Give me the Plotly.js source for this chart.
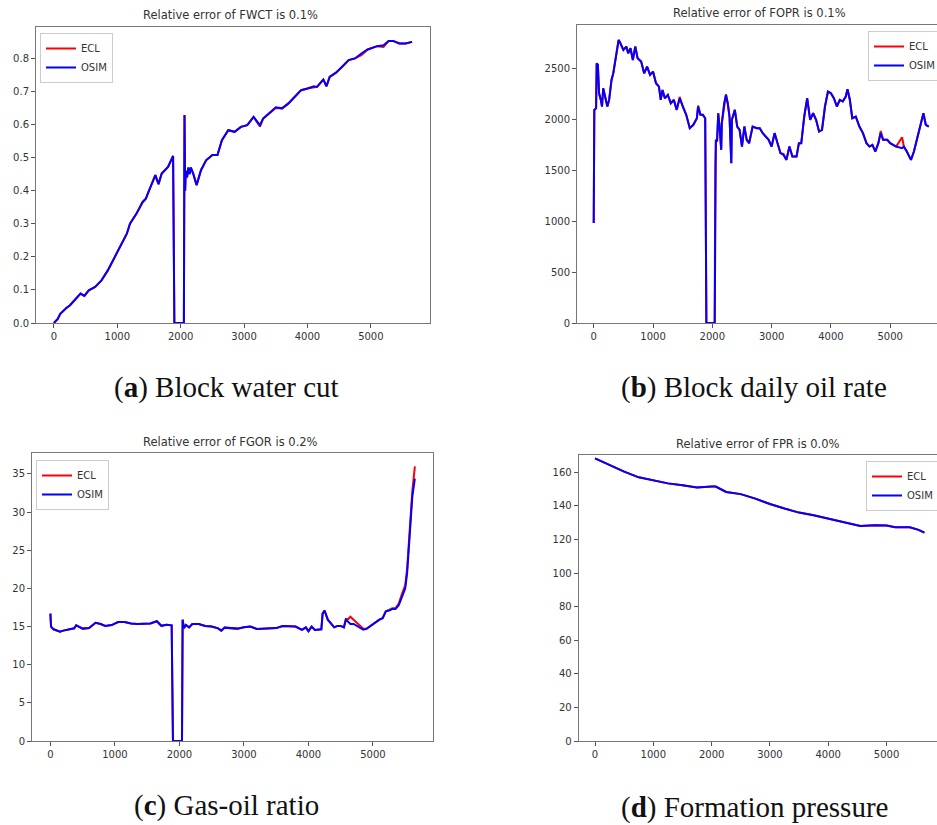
<!DOCTYPE html>
<html>
<head>
<meta charset="utf-8">
<script src="https://cdn.plot.ly/plotly-3.0.1.min.js"></script>
<style>
html,body{margin:0;padding:0;background:#fff;}
#chart{width:937px;height:825px;}
</style>
</head>
<body>
<div id="chart"></div>
<script>
// ---------- (a) FWCT ----------
const daysA = [0, 60, 100, 150, 200, 250, 300, 350, 420, 480, 550, 650, 750, 850, 950, 1050, 1150, 1200, 1300, 1400, 1450, 1500, 1600, 1650, 1700, 1800, 1880, 1900, 2050, 2060, 2070, 2080, 2100, 2120, 2140, 2160, 2200, 2250, 2320, 2400, 2500, 2580, 2650, 2750, 2850, 2950, 3050, 3150, 3250, 3300, 3400, 3500, 3600, 3700, 3800, 3900, 4000, 4100, 4150, 4250, 4300, 4350, 4450, 4550, 4650, 4750, 4850, 4950, 5100, 5200, 5280, 5350, 5450, 5550, 5650];
const fwctOSIM = [0.0, 0.012, 0.028, 0.038, 0.046, 0.053, 0.064, 0.074, 0.089, 0.082, 0.099, 0.109, 0.129, 0.159, 0.195, 0.23, 0.27, 0.30, 0.33, 0.366, 0.376, 0.40, 0.447, 0.42, 0.452, 0.472, 0.505, 0.0, 0.0, 0.629, 0.40, 0.46, 0.44, 0.47, 0.45, 0.47, 0.45, 0.417, 0.462, 0.492, 0.508, 0.508, 0.553, 0.583, 0.578, 0.593, 0.598, 0.623, 0.598, 0.618, 0.634, 0.652, 0.649, 0.664, 0.684, 0.704, 0.709, 0.716, 0.714, 0.736, 0.716, 0.744, 0.757, 0.775, 0.795, 0.80, 0.815, 0.827, 0.837, 0.84, 0.853, 0.853, 0.845, 0.845, 0.85];
const fwctECL  = [0.0, 0.012, 0.028, 0.038, 0.046, 0.053, 0.064, 0.074, 0.089, 0.082, 0.099, 0.109, 0.129, 0.159, 0.195, 0.23, 0.27, 0.30, 0.33, 0.366, 0.376, 0.40, 0.447, 0.42, 0.452, 0.472, 0.505, 0.0, 0.0, 0.629, 0.40, 0.46, 0.44, 0.47, 0.45, 0.47, 0.45, 0.417, 0.462, 0.492, 0.508, 0.508, 0.553, 0.583, 0.578, 0.593, 0.598, 0.623, 0.594, 0.618, 0.634, 0.650, 0.649, 0.664, 0.684, 0.704, 0.709, 0.712, 0.714, 0.736, 0.716, 0.744, 0.757, 0.775, 0.795, 0.80, 0.810, 0.827, 0.837, 0.835, 0.853, 0.853, 0.845, 0.845, 0.85];

// ---------- (b) FOPR ----------
const daysB = [0, 10, 40, 50, 70, 90, 120, 140, 160, 200, 230, 260, 300, 330, 370, 400, 420, 450, 500, 550, 580, 620, 660, 700, 740, 800, 850, 900, 950, 1000, 1050, 1100, 1130, 1160, 1200, 1250, 1300, 1350, 1400, 1450, 1500, 1560, 1620, 1680, 1740, 1760, 1800, 1840, 1880, 1900, 2040, 2050, 2060, 2080, 2100, 2130, 2150, 2160, 2200, 2230, 2260, 2290, 2320, 2330, 2380, 2420, 2460, 2500, 2540, 2580, 2620, 2680, 2750, 2800, 2850, 2900, 2950, 3000, 3050, 3100, 3150, 3200, 3250, 3300, 3350, 3420, 3460, 3500, 3550, 3600, 3650, 3700, 3750, 3800, 3850, 3900, 3950, 4000, 4050, 4100, 4150, 4200, 4250, 4280, 4320, 4360, 4420, 4480, 4540, 4600, 4650, 4700, 4750, 4800, 4840, 4880, 4950, 5000, 5100, 5200, 5230, 5280, 5350, 5400, 5450, 5500, 5560, 5600, 5650];
const foprOSIM = [983, 2097, 2113, 2555, 2540, 2260, 2195, 2130, 2310, 2195, 2130, 2195, 2392, 2457, 2621, 2752, 2785, 2752, 2687, 2720, 2654, 2703, 2588, 2720, 2605, 2572, 2457, 2523, 2441, 2474, 2359, 2326, 2195, 2293, 2211, 2244, 2162, 2195, 2097, 2211, 2130, 2048, 1917, 1950, 2015, 2130, 2048, 2048, 2015, 0, 0, 1540, 1802, 1786, 2064, 1868, 1704, 1966, 2162, 2244, 2162, 2031, 1573, 1999, 2097, 1933, 1900, 1736, 1933, 1802, 1769, 1933, 1917, 1917, 1868, 1835, 1802, 1736, 1868, 1769, 1671, 1654, 1605, 1736, 1638, 1638, 1769, 1769, 2031, 2211, 1999, 2064, 1999, 1884, 1900, 2130, 2277, 2261, 2211, 2130, 2195, 2179, 2228, 2300, 2195, 2015, 2031, 1933, 1868, 1769, 1736, 1753, 1687, 1769, 1868, 1802, 1802, 1769, 1736, 1720, 1736, 1687, 1605, 1687, 1802, 1933, 2064, 1950, 1933];
const foprECL  = [983, 2097, 2113, 2555, 2540, 2260, 2195, 2130, 2310, 2195, 2130, 2195, 2392, 2457, 2621, 2752, 2785, 2752, 2687, 2720, 2654, 2703, 2588, 2720, 2605, 2572, 2457, 2523, 2441, 2474, 2359, 2326, 2195, 2293, 2211, 2244, 2162, 2195, 2097, 2225, 2130, 2048, 1917, 1950, 2015, 2140, 2048, 2048, 2015, 0, 0, 1540, 1802, 1786, 2064, 1868, 1704, 1966, 2162, 2250, 2162, 2031, 1573, 1999, 2097, 1933, 1900, 1736, 1933, 1802, 1769, 1933, 1917, 1917, 1868, 1835, 1802, 1736, 1868, 1769, 1671, 1665, 1605, 1736, 1638, 1638, 1769, 1769, 2031, 2211, 1999, 2064, 1999, 1884, 1900, 2130, 2277, 2261, 2211, 2130, 2195, 2179, 2228, 2300, 2195, 2015, 2031, 1933, 1868, 1769, 1736, 1753, 1687, 1769, 1890, 1802, 1802, 1769, 1736, 1828, 1736, 1687, 1605, 1687, 1802, 1933, 2064, 1950, 1933];

// ---------- (c) FGOR ----------
const daysC = [0, 10, 50, 100, 150, 200, 300, 370, 400, 450, 500, 600, 700, 780, 850, 950, 1050, 1150, 1250, 1350, 1450, 1550, 1650, 1720, 1800, 1880, 1900, 2040, 2050, 2070, 2100, 2150, 2200, 2300, 2400, 2500, 2600, 2650, 2700, 2800, 2900, 3000, 3100, 3200, 3300, 3400, 3500, 3600, 3700, 3800, 3900, 3960, 4000, 4050, 4100, 4200, 4220, 4250, 4300, 4350, 4400, 4450, 4500, 4550, 4580, 4620, 4650, 4700, 4750, 4800, 4850, 4900, 4950, 5000, 5050, 5100, 5150, 5200, 5250, 5300, 5350, 5400, 5450, 5500, 5530, 5570, 5610, 5650];
const fgorOSIM = [16.7, 15.0, 14.64, 14.47, 14.34, 14.47, 14.64, 14.77, 15.17, 14.9, 14.73, 14.8, 15.5, 15.34, 15.08, 15.2, 15.6, 15.6, 15.4, 15.34, 15.34, 15.4, 15.7, 15.1, 15.25, 15.17, 0, 0, 15.9, 14.8, 15.2, 14.9, 15.34, 15.34, 15.08, 15.0, 14.77, 14.47, 14.86, 14.77, 14.73, 14.9, 15.0, 14.69, 14.73, 14.77, 14.8, 15.08, 15.0, 15.0, 14.56, 14.9, 14.4, 15.0, 14.56, 14.64, 16.7, 17.1, 15.9, 15.4, 14.9, 15.08, 15.08, 14.9, 15.9, 15.6, 15.34, 15.34, 15.1, 14.9, 14.6, 14.7, 15.0, 15.34, 15.65, 15.9, 16.1, 17.0, 17.1, 17.3, 17.3, 17.8, 18.9, 20.0, 22.0, 27.7, 32.0, 34.4];
const fgorECL  = [16.7, 15.0, 14.64, 14.47, 14.34, 14.47, 14.64, 14.77, 15.17, 14.9, 14.73, 14.8, 15.5, 15.34, 15.08, 15.2, 15.6, 15.6, 15.4, 15.34, 15.34, 15.4, 15.7, 15.1, 15.25, 15.17, 0, 0, 15.9, 14.8, 15.2, 14.9, 15.34, 15.34, 15.08, 15.0, 14.77, 14.47, 14.86, 14.77, 14.73, 14.9, 15.0, 14.69, 14.73, 14.77, 14.8, 15.08, 15.0, 15.0, 14.56, 14.9, 14.4, 15.0, 14.56, 14.64, 16.7, 17.1, 15.9, 15.4, 14.9, 15.08, 15.08, 14.9, 16.0, 16.0, 16.3, 15.9, 15.5, 15.2, 14.7, 14.7, 15.0, 15.34, 15.65, 15.9, 16.1, 17.0, 17.2, 17.4, 17.4, 18.0, 19.3, 20.4, 22.6, 28.5, 32.7, 36.0];

// ---------- (d) FPR ----------
const daysD = [0, 250, 500, 750, 1000, 1250, 1500, 1750, 2000, 2070, 2250, 2500, 2750, 3000, 3250, 3500, 3750, 4000, 4250, 4550, 4800, 5000, 5150, 5400, 5550, 5650];
const fprOSIM = [168.3, 164.3, 160.4, 157.0, 155.0, 153.4, 152.3, 151.0, 151.5, 151.5, 148.3, 147.0, 144.3, 141.1, 138.4, 136.0, 134.4, 132.4, 130.5, 128.0, 128.4, 128.3, 127.3, 127.3, 125.7, 124.1];
const fprECL  = [168.3, 164.3, 160.4, 157.0, 155.0, 153.4, 152.3, 151.0, 151.5, 151.5, 148.3, 147.0, 144.3, 141.1, 138.4, 136.0, 134.4, 132.4, 130.5, 128.0, 128.4, 128.3, 127.3, 127.3, 125.7, 124.1];

const panelTitles = ["Relative error of FWCT is 0.1%", "Relative error of FOPR is 0.1%", "Relative error of FGOR is 0.2%", "Relative error of FPR is 0.0%"];
const captionLetters = ["a", "b", "c", "d"];
const captionTexts = ["Block water cut", "Block daily oil rate", "Gas-oil ratio", "Formation pressure"];
const seriesNames = ["ECL", "OSIM"];

const W = 937, H = 825;
const px = v => v / W;
const py = v => 1 - v / H;

function lineTrace(x, y, name, color, n) {
  return {
    x: x, y: y, name: name, type: 'scatter', mode: 'lines',
    line: {color: color, width: 2},
    xaxis: n === 1 ? 'x' : 'x' + n,
    yaxis: n === 1 ? 'y' : 'y' + n,
    legend: n === 1 ? 'legend' : 'legend' + n,
    hoverinfo: 'skip'
  };
}

const data = [
  lineTrace(daysA, fwctECL, seriesNames[0], '#ff0000', 1),
  lineTrace(daysA, fwctOSIM, seriesNames[1], '#0000ff', 1),
  lineTrace(daysB, foprECL, seriesNames[0], '#ff0000', 2),
  lineTrace(daysB, foprOSIM, seriesNames[1], '#0000ff', 2),
  lineTrace(daysC, fgorECL, seriesNames[0], '#ff0000', 3),
  lineTrace(daysC, fgorOSIM, seriesNames[1], '#0000ff', 3),
  lineTrace(daysD, fprECL, seriesNames[0], '#ff0000', 4),
  lineTrace(daysD, fprOSIM, seriesNames[1], '#0000ff', 4)
];

const tickFont = {family: 'DejaVu Sans', size: 10, color: '#333'};
function ax(extra) {
  return Object.assign({
    showgrid: false, zeroline: false, showline: true,
    linecolor: '#777', linewidth: 1,
    ticks: 'outside', ticklen: 4, tickwidth: 1, tickcolor: '#555',
    tickfont: tickFont, fixedrange: true, automargin: false
  }, extra);
}

function legendAt(x, y) {
  return {
    x: px(x), y: py(y), xanchor: 'left', yanchor: 'top',
    xref: 'container', yref: 'container',
    bgcolor: 'rgba(255,255,255,0.9)', bordercolor: '#cccccc', borderwidth: 1,
    font: {family: 'DejaVu Sans', size: 10, color: '#333'},
    itemwidth: 30, tracegroupgap: 0
  };
}

const xTicks = [0, 1000, 2000, 3000, 4000, 5000];

const layout = {
  width: W, height: H,
  margin: {l: 0, r: 0, t: 0, b: 0, autoexpand: false},
  paper_bgcolor: '#fff', plot_bgcolor: '#fff',
  showlegend: true,
  xaxis:  ax({domain: [px(36), px(430)], range: [-283, 5933], tickvals: xTicks, anchor: 'y', mirror: true}),
  yaxis:  ax({domain: [py(323), py(27)], range: [0, 0.895], tickvals: [0,0.1,0.2,0.3,0.4,0.5,0.6,0.7,0.8], tickformat: '.1f', anchor: 'x', mirror: true}),
  xaxis2: ax({domain: [px(577), 1], range: [-282, 5789], tickvals: xTicks, anchor: 'y2', mirror: true}),
  yaxis2: ax({domain: [py(323), py(25)], range: [0, 2932], tickvals: [0,500,1000,1500,2000,2500], anchor: 'x2'}),
  xaxis3: ax({domain: [px(32), px(433)], range: [-285, 5931], tickvals: xTicks, anchor: 'y3', mirror: true}),
  yaxis3: ax({domain: [py(741), py(453)], range: [0, 37.75], tickvals: [0,5,10,15,20,25,30,35], anchor: 'x3', mirror: true}),
  xaxis4: ax({domain: [px(578.7), 1], range: [-280, 5866], tickvals: xTicks, anchor: 'y4', mirror: true}),
  yaxis4: ax({domain: [py(741), py(455)], range: [0, 170.3], tickvals: [0,20,40,60,80,100,120,140,160], anchor: 'x4'}),
  legend:  legendAt(40, 33),
  legend2: legendAt(868, 31),
  legend3: legendAt(36, 460),
  legend4: legendAt(866, 461),
  annotations: []
};

const titlePos = [[230.5, 15], [759, 13], [230, 442], [758, 444]];
const capPos = [[226, 388], [754, 388], [226, 805], [754, 807]];
for (let i = 0; i < 4; i++) {
  layout.annotations.push({
    text: panelTitles[i], xref: 'paper', yref: 'paper',
    x: px(titlePos[i][0]), y: py(titlePos[i][1]), xanchor: 'center', yanchor: 'middle',
    showarrow: false, font: {family: 'DejaVu Sans', size: 11.5, color: '#333'}
  });
  layout.annotations.push({
    text: '(<b>' + captionLetters[i] + '</b>) ' + captionTexts[i], xref: 'paper', yref: 'paper',
    x: px(capPos[i][0]), y: py(capPos[i][1]), xanchor: 'center', yanchor: 'middle',
    showarrow: false, font: {family: 'Liberation Serif', size: 29, color: '#111'}
  });
}

Plotly.newPlot('chart', data, layout, {staticPlot: true, displayModeBar: false});
</script>
</body>
</html>
